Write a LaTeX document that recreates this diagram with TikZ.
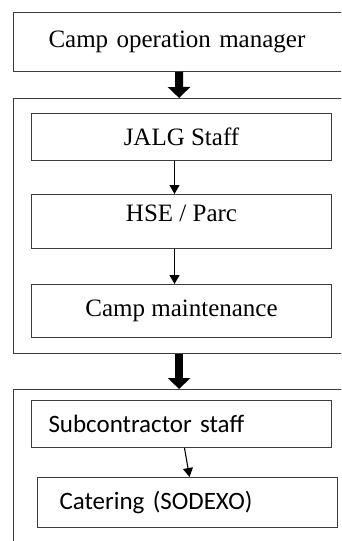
\documentclass[tikz,border=0pt]{standalone}
\usepackage{fontspec}
\setmainfont{Liberation Serif}
\setsansfont{Carlito}
\usetikzlibrary{arrows.meta, positioning}
\definecolor{chartline}{HTML}{3C3C3C}

\begin{document}
\begin{tikzpicture}[
  x=1pt, y=-1pt,
  every node/.style={font=\fontsize{25}{30}\selectfont, text=black},
  box/.style={rectangle, draw=chartline, line width=1pt, anchor=north west, inner sep=0pt, minimum width=300pt, align=center},
  sbox/.style={box, font=\sffamily\fontsize{25}{30}\selectfont, align=left},
  frame/.style={rectangle, draw=chartline, line width=1.2pt, anchor=north west, inner sep=0pt, minimum width=331pt},
  link/.style={-{Triangle[width=10pt,length=9pt]}, line width=1.1pt, black},
  bigarrow/.style={-{Triangle[width=22pt,length=11pt]}, line width=8pt, black},
]
\useasboundingbox (0,0) rectangle (341,541);
\clip (0,0) rectangle (341,541);

% top of the chart
\node[box, minimum height=59pt, text width=261pt, inner xsep=35pt, align=left] (mgr) at (13,12) {Camp operation manager};

% camp staff group
\node[frame, minimum height=255pt] (staffgrp) at (13,98) {};
\node[box, minimum height=47pt] (jalg) at (31,113) {JALG Staff};
\node[box, minimum height=54pt, text depth=16pt] (hse) at (31,194) {HSE / Parc};
\node[box, minimum height=53pt] (maint) at (31,284) {Camp maintenance};

% subcontractor group
\node[frame, minimum height=180pt] (subgrp) at (13,389) {};
\node[sbox, minimum height=47pt, text width=266pt, inner xsep=17pt] (sub) at (31,400) {Subcontractor staff};
\node[sbox, minimum height=50pt, text width=256pt, inner xsep=19pt] (cat) at (37,477) {Catering (SODEXO)};

\draw[bigarrow] (mgr.south) -- (staffgrp.north);
\draw[link] ([xshift=-7pt]jalg.south) -- ([xshift=-7pt]hse.north);
\draw[link] ([xshift=-7pt]hse.south) -- ([xshift=-7pt]maint.north);
\draw[bigarrow] (staffgrp.south) -- (subgrp.north);
\draw[link] ([xshift=3pt]sub.south) -- ([xshift=2pt]cat.north);
\end{tikzpicture}
\end{document}
